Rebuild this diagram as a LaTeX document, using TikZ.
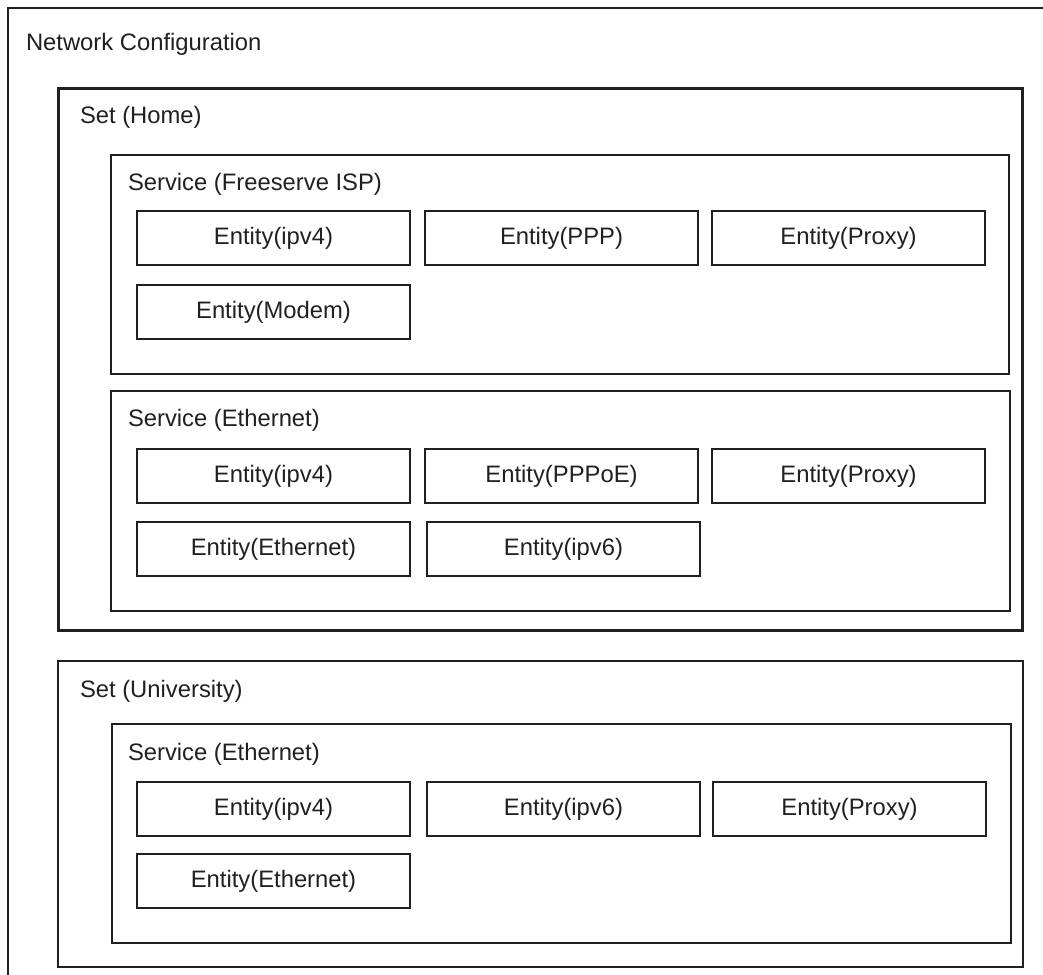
\documentclass[tikz,border=0pt]{standalone}
\usepackage{fontspec}
\setmainfont{Liberation Sans}
\definecolor{ink}{RGB}{35,31,32}
\begin{document}
\begin{tikzpicture}[x=1pt,y=-1pt,
  frame/.style={draw=ink, rectangle, inner sep=0pt, outer sep=0pt, anchor=north west},
  netframe/.style={frame, line width=2.4pt},
  setframe/.style={frame, line width=3pt},
  uniframe/.style={frame, line width=2.2pt},
  serviceframe/.style={frame, line width=2.6pt, minimum width=898, minimum height=219},
  entity/.style={frame, line width=1.6pt, minimum width=273, minimum height=54,
    font=\fontsize{23.8}{28}\selectfont, text=ink, anchor=north west},
  title/.style={anchor=base west, inner sep=0pt, outer sep=0pt,
    font=\fontsize{23.8}{28}\selectfont, text=ink}]
  \useasboundingbox (0,0) rectangle (1043,974);
  \clip (0,0) rectangle (1043,974);

  % outermost container, running past the page edges
  \node[netframe, minimum width=1100, minimum height=1050] (net) at (8,8) {};
  \node[title] (netlbl) at (26,51) {Network Configuration};

  % ---- Set (Home) ----
  \node[setframe, minimum width=964, minimum height=542] (home) at (58,88) {};
  \node[title] (homelbl) at (80,123) {Set (Home)};

  \node[serviceframe] (isp) at (111,155) {};
  \node[title] (isplbl) at (128,190) {Service (Freeserve ISP)};
  \node[entity] (ispipv4)  at (137,211) {Entity(ipv4)};
  \node[entity] (ispppp)   at (425,211) {Entity(PPP)};
  \node[entity] (ispproxy) at (712,211) {Entity(Proxy)};
  \node[entity] (ispmodem) at (137,285) {Entity(Modem)};

  \node[serviceframe, minimum width=899, minimum height=220] (heth) at (111,391) {};
  \node[title] (hethlbl) at (128,426) {Service (Ethernet)};
  \node[entity] (hethipv4)  at (137,449) {Entity(ipv4)};
  \node[entity] (hethpppoe) at (425,449) {Entity(PPPoE)};
  \node[entity] (hethproxy) at (712,449) {Entity(Proxy)};
  \node[entity] (hethther)  at (137,522) {Entity(Ethernet)};
  \node[entity] (hethipv6)  at (427,522) {Entity(ipv6)};

  % ---- Set (University) ----
  \node[uniframe, minimum width=965, minimum height=306] (uni) at (58,661) {};
  \node[title] (unilbl) at (80,697) {Set (University)};

  \node[serviceframe, minimum width=899, minimum height=219] (ueth) at (112,724) {};
  \node[title] (uethlbl) at (128,760) {Service (Ethernet)};
  \node[entity] (uethipv4)  at (137,782) {Entity(ipv4)};
  \node[entity] (uethipv6)  at (427,782) {Entity(ipv6)};
  \node[entity] (uethproxy) at (713,782) {Entity(Proxy)};
  \node[entity] (uetheth)   at (137,854) {Entity(Ethernet)};
\end{tikzpicture}
\end{document}
